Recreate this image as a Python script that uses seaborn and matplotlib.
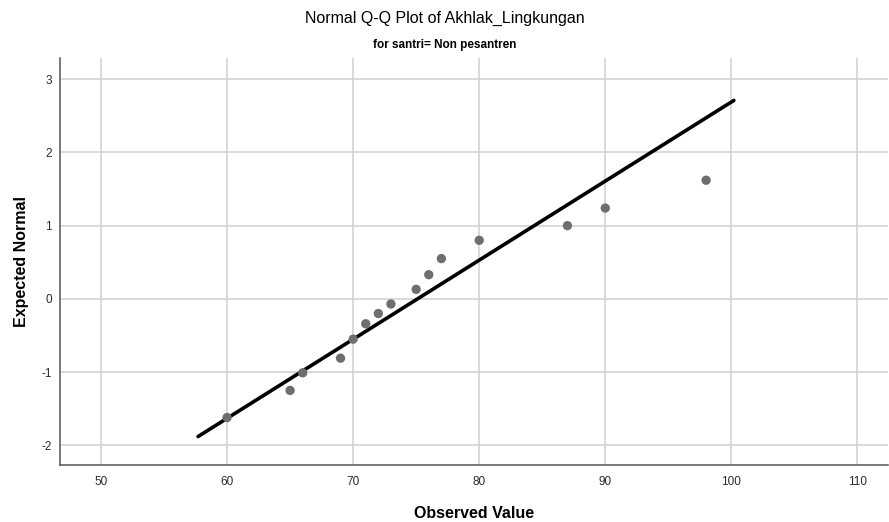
import matplotlib
matplotlib.use('Agg')
import matplotlib.pyplot as plt
import seaborn as sns
import pandas as pd

observed = [60, 65, 66, 69, 70, 71, 72, 73, 75, 76, 77, 80, 87, 90, 98]
expected = [-1.62, -1.25, -1.01, -0.81, -0.55, -0.34, -0.20, -0.07,
            0.13, 0.33, 0.55, 0.80, 1.00, 1.24, 1.62]

# Reference line end points
line_x = [57.7, 100.2]
line_y = [-1.88, 2.71]

x_ticks = [50, 60, 70, 80, 90, 100, 110]
y_ticks = [-2, -1, 0, 1, 2, 3]

df = pd.DataFrame({'Observed Value': observed, 'Expected Normal': expected})
line_df = pd.DataFrame({'x': line_x, 'y': line_y})

sns.set_style('white')
plt.rcParams['font.family'] = ['Liberation Sans', 'DejaVu Sans']
plt.rcParams['axes.unicode_minus'] = False

fig = plt.figure(figsize=(8.89, 5.22), dpi=100)
ax = fig.add_axes([0.0675, 0.109, 0.931, 0.78])

sns.lineplot(x='x', y='y', data=line_df, color='black', linewidth=2.6, ax=ax, zorder=3)
sns.scatterplot(x='Observed Value', y='Expected Normal', data=df, color='#6e6e6e',
                s=45, edgecolor='none', ax=ax, zorder=4)

ax.set_xlim(46.75, 112.4)
ax.set_ylim(-2.27, 3.29)
ax.set_xticks(x_ticks)
ax.set_yticks(y_ticks)
ax.grid(True, color='#cfcfcf', linewidth=1.1)
ax.set_axisbelow(True)
for side in ['top', 'right']:
    ax.spines[side].set_visible(False)
for side in ['left', 'bottom']:
    ax.spines[side].set_color('#555555')
    ax.spines[side].set_linewidth(1.1)
ax.tick_params(axis='both', length=0, labelsize=8.5, colors='#2a2a2a')
ax.tick_params(axis='x', pad=8)
ax.tick_params(axis='y', pad=6)

ax.set_xlabel('Observed Value', fontsize=11.5, fontweight='bold', labelpad=13, color='black')
ax.set_ylabel('Expected Normal', fontsize=11.5, fontweight='bold', labelpad=9, color='black')

fig.text(0.5, 0.965, 'Normal Q-Q Plot of Akhlak_Lingkungan', ha='center', va='center',
         fontsize=11.5, color='black')
fig.text(0.5, 0.914, 'for santri= Non pesantren', ha='center', va='center',
         fontsize=8.5, fontweight='bold', color='black')

plt.savefig('out.png', dpi=100)
plt.close()
